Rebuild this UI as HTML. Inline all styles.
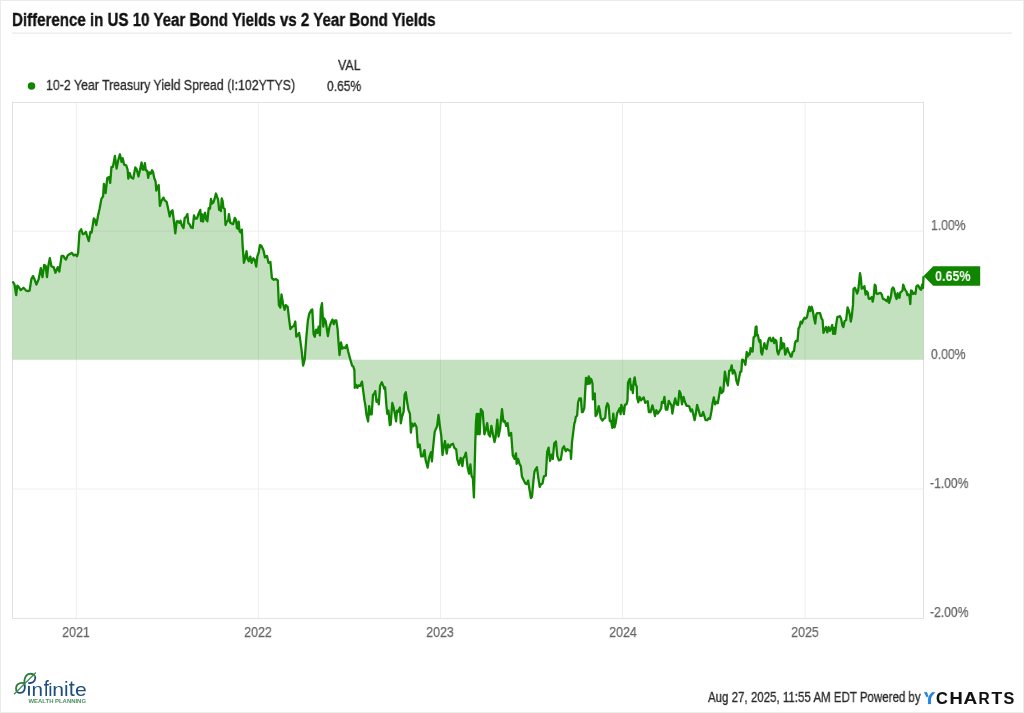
<!DOCTYPE html>
<html><head><meta charset="utf-8"><style>
html,body{margin:0;padding:0;background:#fff;}
body{width:1024px;height:713px;position:relative;overflow:hidden;font-family:"Liberation Sans",sans-serif;}
.frame{position:absolute;left:0;top:0;width:1024px;height:713px;box-sizing:border-box;border:1px solid #ebebeb;}
.t{position:absolute;white-space:nowrap;transform-origin:0 0;line-height:1;will-change:transform;}
.title{left:12px;top:10.6px;font-size:18px;font-weight:700;color:#111;-webkit-text-stroke:0.35px #111;transform:scaleX(0.838);}
.leg{left:46px;top:77.6px;font-size:14.8px;color:#2a2a2a;-webkit-text-stroke:0.3px #2a2a2a;transform:scaleX(0.834);}
.val{font-size:14px;color:#2a2a2a;-webkit-text-stroke:0.3px #2a2a2a;}
.ax{font-size:14px;color:#666;-webkit-text-stroke:0.25px #666;transform:scaleX(0.868);}
.axx{width:100px;text-align:center;transform-origin:50% 0 !important;font-size:15px;color:#666;-webkit-text-stroke:0.25px #666;transform:scaleX(0.83);}
.foot{left:707.5px;top:689.6px;font-size:14px;color:#2a2a2a;-webkit-text-stroke:0.3px #2a2a2a;transform:scaleX(0.822);}
</style></head><body>
<div class="frame"></div>
<div class="t title">Difference in US 10 Year Bond Yields vs 2 Year Bond Yields</div>
<div class="t leg">10-2 Year Treasury Yield Spread (I:102YTYS)</div>
<div class="t val" style="left:337.9px;top:57.6px;transform:scaleX(0.885);">VAL</div>
<div class="t val" style="left:326.6px;top:78.6px;transform:scaleX(0.86);">0.65%</div>
<svg style="position:absolute;left:0;top:0" width="1024" height="713" viewBox="0 0 1024 713">
<g fill="none" stroke="#efefef" stroke-width="1">
<path d="M76.3,102.5V618M258.4,102.5V618M440.5,102.5V618M622.6,102.5V618M805.1,102.5V618"/>
<path d="M12.5,231.1H923.5M12.5,489H923.5"/>
</g>
<line x1="12" y1="33.1" x2="1012" y2="33.1" stroke="#e4e4e4" stroke-width="1"/>
<circle cx="31.5" cy="86" r="3.75" fill="#108500"/>
<rect x="12.5" y="102.5" width="911" height="516" fill="none" stroke="#e2e2e2" stroke-width="1"/>
<path d="M12.5,359.75 L12.5,283 L13.1,282.2 L14.5,284.5 L16.2,295.1 L17.3,285.6 L19,287.3 L20.7,290.1 L23.5,287.8 L26.3,290.7 L27.9,291.2 L29.6,290.7 L31.3,279.4 L33,276.1 L34.4,278.9 L36.4,284.5 L38.6,279.4 L40.8,268.2 L42.5,277.2 L44.2,264.9 L45.7,266 L47,277.2 L48.1,267.1 L49.8,258.1 L51.5,266.5 L53.7,267.1 L55.4,272.7 L57.7,267.1 L59.3,271.6 L61.6,255.9 L63.3,255.9 L65,258.7 L66,259.6 L67.7,255.4 L70.2,253.7 L71.9,252.9 L73.6,255.4 L75.3,254.6 L77,256.2 L78.1,252.9 L79.5,231.8 L81.2,229.3 L82.9,234.3 L84.5,233.5 L85.9,231.8 L87.1,236 L88.8,241.1 L90.4,231.8 L91.6,232.6 L93.8,218.3 L95,220 L96.3,225.1 L98,215.8 L99.7,208.2 L101.4,198.9 L103.1,196.4 L103.9,183.8 L105.6,193 L107.3,177.9 L109,177 L110.2,182.9 L111.5,166.9 L112.9,166.9 L114.9,156 L116.6,168.6 L118.2,160.2 L119.9,154.3 L121.6,161.9 L122.7,158.3 L124.1,164.6 L126.2,165.3 L127.6,169.5 L128.3,178.6 L129.7,173 L131.1,177.2 L133.2,178.6 L135.3,167.4 L136.7,169.5 L138.5,176.5 L139.9,170.2 L141.6,162.5 L142.7,169.5 L143.7,169.5 L144.9,163.2 L145.8,170.2 L147.2,170.9 L148.2,177.9 L149.3,172.3 L150.7,173.7 L152.1,170.2 L153.1,172.3 L154.2,177.9 L155.6,181.5 L156.3,190.6 L157.7,187.1 L158.7,185 L159.9,206 L161.3,201.1 L163.4,197.6 L164.8,200.4 L166.6,201.8 L168,208.1 L169.7,216.5 L171.1,211.6 L172.5,210.2 L174.2,223.5 L175.3,233.3 L176.7,221.4 L178,221.2 L179.3,222.9 L180.5,220.8 L181.8,225.4 L183.5,228 L184.7,217.9 L186,217 L187.4,214.1 L188.3,222.9 L189.8,224.6 L191,227.5 L192.7,228 L194,215.3 L195.2,218.7 L196.9,218.7 L198.6,213.7 L200.3,209.9 L201.1,221.2 L202,214.5 L203.1,221.6 L204.1,215.3 L205.1,212.8 L206.2,219.5 L207.4,221.2 L208.7,208.2 L210,208.6 L211,198.9 L212.1,203.6 L213.3,202.7 L214.6,198.9 L215.9,193.5 L217.1,196.8 L218.2,200.2 L219.1,209.9 L220.1,209.9 L220.9,211.1 L221.7,198.5 L222.6,201 L223.4,207.8 L224.7,209 L225.5,225 L226.8,221.6 L228.1,220.8 L228.9,214.1 L230.2,222.5 L231.8,223.7 L233.1,224.2 L234.8,217.9 L236.1,220.4 L236.9,228 L237.7,228.8 L238.7,221.6 L239.6,231.3 L240.7,232.6 L241.9,229.6 L242.6,245.1 L243.9,262.8 L245.4,257.4 L246.5,251.2 L247.6,258.9 L248.8,261.2 L250.3,256.6 L251.6,262.8 L253.4,258.2 L254.7,259.7 L256.2,266.6 L257.3,256.6 L258.8,252 L259.9,245.1 L261.4,245.8 L263.5,250.5 L265,257.4 L267,255.9 L268.5,262.8 L270.4,262 L271.9,278.2 L273.8,279.8 L275.8,279 L277.8,280.5 L278.9,305.2 L280.4,307.5 L281.5,294.4 L283,303.7 L284.6,309.8 L285.8,305.2 L287.7,306.8 L288.9,317.5 L290.4,329.1 L292.3,326.8 L293.8,326 L295.3,321.5 L296.3,336.7 L297.5,335.4 L299.1,332.9 L300.3,340.5 L301.8,351.8 L303.1,365.7 L304.7,359.4 L306.4,336.7 L307.9,320.3 L309.2,313.9 L311.1,310.2 L312.3,309.5 L313.6,334.2 L314.8,336.7 L316.1,329.7 L317.4,332.9 L318.6,326.6 L319.9,335.4 L320.8,308.9 L322,303.2 L323.3,326.6 L324.3,318.4 L325.8,321.5 L327.9,336.1 L329.4,327.2 L330.9,322.8 L332.5,319.6 L333.8,324.1 L335.1,320.3 L336.3,320.3 L337.6,329.1 L338.2,337.9 L339.5,355 L341,342.4 L342.3,348.7 L343.9,347.4 L345.2,348.1 L346.8,344.9 L348.1,351.2 L349.6,356.9 L350.8,361.3 L352.1,365.7 L353.2,366.4 L354.4,370.2 L354.8,387.9 L356.1,384.7 L357.3,387.9 L358.6,385.4 L360.1,386 L362,381.6 L363.3,391.7 L364.5,400.5 L365.4,405.6 L366.4,414.4 L368.1,421.4 L369.2,406.2 L370.2,414.4 L371.7,414.4 L373,394.8 L374,394.2 L375.3,391.1 L376.5,401.8 L377.8,399.9 L378.8,404.3 L380.1,386 L381.8,382.2 L383.1,385.4 L384.4,389.2 L385.1,387.3 L386.4,405.6 L387.3,413.8 L388.5,410.6 L389.8,425.2 L390.7,424.5 L392.3,403 L393.6,407.5 L394.8,413.8 L396.1,421.4 L397,410.6 L398,411.9 L399.3,408.7 L399.9,407.5 L400.8,423.3 L402,416.9 L403.7,411.3 L404.6,394.8 L405.8,392.3 L407.4,403.8 L408.5,410.1 L409.9,413.6 L410.9,432.6 L411.9,423.5 L413.3,426.3 L414.7,423.5 L416.5,427 L417.9,447.3 L419.7,444.5 L421.1,456.4 L422.8,456.4 L424.5,450.1 L425.6,459.9 L427.7,467.6 L429.1,457.8 L431,452.2 L431.9,461.3 L432.9,449.4 L434.7,431.9 L436.1,428.4 L437.1,426.3 L438.5,415 L439.9,426.3 L441.3,436.1 L442.5,455 L443.9,445.9 L445,441 L446.7,453.6 L448.1,444.5 L449.7,447.3 L451.1,444.5 L453,443.8 L454.4,448 L456.2,449.4 L457.2,459.2 L459,464.8 L460.7,457.8 L462.4,466.2 L463.4,458.2 L464.8,456.1 L465.9,452.6 L467.6,467.3 L469,473.6 L470.4,464.5 L471.5,475.7 L472.9,478.5 L473.9,497.4 L475.3,442.1 L476,421.7 L476.7,414 L477.7,434.3 L478.5,414 L479.7,434.3 L480.9,409.1 L482.7,411.9 L484.4,434.3 L485.8,430.1 L487.2,423.1 L488.6,434.3 L490,436.5 L491.4,425.9 L492.8,433.6 L494.5,442.1 L495.6,437.2 L497.3,419.6 L498.5,436.5 L500.1,428.7 L502,409.1 L503.4,421.7 L504.8,421 L506.2,425.9 L507.6,423.1 L509,435.7 L511.1,432.9 L512.8,455.4 L514.6,458.9 L516,453.3 L516.7,463.8 L518.1,458.9 L519.7,464.5 L520.8,465.9 L521.9,476.4 L523.6,479.9 L525.3,483.4 L526.7,484.1 L528.1,480.6 L529.5,489.7 L530.9,498.1 L532,496.7 L533.4,481.3 L534.5,471.5 L535.5,469.4 L536.9,467.3 L538.3,477.8 L539.7,486.9 L541.1,484.1 L542.5,483.4 L543.9,476.4 L545.8,475.7 L547.2,451.9 L548.6,447.7 L550,461 L551.6,454.7 L552.8,458.9 L554.2,443.5 L555.9,441.4 L557.3,456.1 L558.9,460.3 L560.8,459.6 L562.6,448.4 L564,446.3 L565.7,451.2 L567.3,449.1 L569.2,450.5 L570.6,451.2 L571,458.9 L572,442.1 L573.4,430.8 L574.4,423.1 L575,422 L575.8,417 L577.1,415.6 L578.1,402.3 L579.4,398.4 L580.9,398.4 L581.9,412.1 L582.8,412.1 L584.3,408.2 L585.3,389.6 L586,377.8 L587,378.7 L587.7,384.1 L588.7,376.3 L589.7,383.7 L590.7,378.7 L591.5,379.7 L592.5,383.7 L592.9,399.4 L593.6,394.5 L594.8,393.5 L595.6,416.1 L597.1,414.1 L598.7,406.2 L599.7,410.2 L600.7,418 L602.5,420.5 L604,418.5 L605.2,418 L606.2,407.2 L607.4,403.3 L608.6,405.8 L609.8,421 L611.1,421 L612.3,427.8 L613.3,413.6 L614.5,427.4 L615.7,422.9 L617.2,413.1 L618.7,410.2 L619.7,408.2 L620.6,414.1 L621.3,404.8 L622.6,408.2 L623.9,414.1 L624.9,404.8 L626.5,404.3 L627.5,400.4 L628,382.7 L629.5,379.2 L630,378.7 L630.8,389.6 L631.8,385.6 L632.9,393 L633.7,381.7 L634.7,377.3 L635.7,384.6 L636.7,386.6 L637.1,397.4 L638.3,402.3 L639.6,396.9 L640.8,400.4 L642.3,398.9 L643.7,397.4 L645.2,402.8 L646.5,401.8 L647.7,401.3 L648.9,412.1 L650.6,412.1 L652.4,405.3 L653.8,410.7 L655,416.1 L656.3,410.2 L657.7,413.6 L659.5,411.2 L661.2,408.2 L661.9,401.8 L663.2,402.8 L664.4,396.9 L665.8,409.7 L667.3,409.7 L668.8,400.8 L670.3,403.8 L671.4,405.3 L672.4,413.6 L673.7,405.3 L675.2,398.4 L676.6,404.3 L678.1,404.8 L679.4,391 L680.6,393.5 L682,404.3 L683.5,396.9 L685,402.3 L686.5,405.8 L687.3,405.7 L689.2,406.3 L690.8,411.4 L692.1,409.5 L693.3,414.5 L694.6,420.2 L695.9,413.3 L697.1,405 L698.6,410.1 L700.1,415.8 L701.8,415.8 L703.1,412 L704.3,415.8 L705.6,420.2 L707.2,420.2 L708.7,418.3 L710,418.9 L711.3,412 L712.5,403.8 L713.8,397.5 L715.1,404.4 L716.3,401.9 L717.8,403.2 L719.1,395.6 L720.4,387.4 L721.6,393.1 L723.3,391.2 L724.9,371.6 L726.4,380.4 L727.9,385.5 L729.2,370.9 L730.5,370.3 L731.7,365.3 L732.7,373.5 L734,370.3 L735.3,373.5 L736.5,381.1 L737.8,384.8 L739.1,377.9 L740.3,371.6 L741.3,371.6 L742.2,359.6 L743,359.9 L744,360.9 L745.4,364.8 L746.7,352 L747.7,356.5 L748.7,353.5 L749.7,354.5 L750.6,348.1 L751.6,351.1 L752.6,351.6 L753.6,337.3 L754.8,336.3 L755.7,327 L756.5,326.5 L756.9,335.4 L757.9,334.9 L758.9,340.3 L759.7,342.2 L760.5,340.3 L761.1,352 L762.1,354.5 L763.1,349.1 L764.4,343.2 L765.6,347.6 L766.6,349.1 L767.7,342.7 L769,338.3 L770,337.8 L771.3,341.2 L772.2,340.8 L773.2,337.8 L774.2,343.2 L775.4,339.8 L776.4,341.2 L777.2,351.1 L778.3,354.5 L779.3,351.1 L780.3,348.6 L781,337.8 L781.8,348.6 L782.8,343.2 L784,343.7 L785.2,354.5 L786.2,352 L787.4,348.1 L788.4,351.6 L789.6,353.5 L790.6,356.5 L791.6,356.5 L792.6,352 L794,351.1 L795,343.2 L796,340.8 L797.5,341.2 L798.5,328.5 L799.5,327 L800.7,321.6 L801.9,323.5 L803.1,320.1 L804.7,317.6 L805.9,318.6 L807,317.1 L808.3,310.3 L809.3,306.8 L810.3,311.2 L811.7,306.8 L812.9,311.2 L814.2,319.1 L815.2,323.5 L816.2,314.7 L817.1,313.2 L818.6,313.2 L820.1,313.2 L821.4,318.1 L822.6,320.1 L823.5,332.9 L824.7,329.9 L826,327 L827.3,332.4 L828.6,327 L829.9,330.9 L831.2,327.9 L832.2,325 L833.2,333.8 L834.1,327.9 L835.1,333.8 L836.1,325 L837.3,317.1 L838.8,316.6 L840,316.2 L841.2,319.1 L842.4,325.5 L843.4,327 L844.6,321.1 L846.1,320.1 L847.6,307.3 L848.9,310.8 L849.9,315.2 L850.8,321.6 L851.8,316.2 L853,304.4 L853.5,289.1 L854.8,287.8 L855.9,290.1 L857.1,293.6 L858.2,290.5 L859,283.2 L860,273.1 L860.9,278.5 L861.7,288.6 L862.9,288.2 L864.4,286.2 L865.6,294.7 L866.7,291.3 L867.7,292.4 L868.7,298.6 L869.8,299 L871,297.8 L871.8,297 L872.7,301.7 L873.7,296.3 L874.8,284.7 L875.6,285.5 L876.4,293.6 L877.5,294 L879.1,293.2 L880.6,292.8 L881.8,294.7 L882.9,298.6 L884.5,299.4 L886,300.5 L887.2,301.3 L888.1,296.7 L889.1,302.8 L889.9,300.1 L891,296.3 L891.8,289.3 L893,287.4 L894,288.9 L894.9,293.2 L895.7,296.7 L896.6,299 L897.6,293.2 L898.6,297 L899.5,297.8 L900.3,292.4 L901.5,291.6 L902.5,290.5 L903.2,284.7 L904.2,287.4 L905.3,290.1 L906.5,291.6 L907.4,295.1 L908.4,294.3 L909.4,295.9 L910.3,304 L911,290.5 L911.9,290.9 L913,294 L914.2,292.8 L915.4,294 L916.4,286.6 L917.3,285.5 L918.2,285.5 L919.2,287.4 L920.2,289.3 L921.1,289.7 L922.1,284.7 L923,288 L923.5,276.2 L923.5,359.75 Z" fill="#108500" fill-opacity="0.25"/>
<path d="M12.5,283 L13.1,282.2 L14.5,284.5 L16.2,295.1 L17.3,285.6 L19,287.3 L20.7,290.1 L23.5,287.8 L26.3,290.7 L27.9,291.2 L29.6,290.7 L31.3,279.4 L33,276.1 L34.4,278.9 L36.4,284.5 L38.6,279.4 L40.8,268.2 L42.5,277.2 L44.2,264.9 L45.7,266 L47,277.2 L48.1,267.1 L49.8,258.1 L51.5,266.5 L53.7,267.1 L55.4,272.7 L57.7,267.1 L59.3,271.6 L61.6,255.9 L63.3,255.9 L65,258.7 L66,259.6 L67.7,255.4 L70.2,253.7 L71.9,252.9 L73.6,255.4 L75.3,254.6 L77,256.2 L78.1,252.9 L79.5,231.8 L81.2,229.3 L82.9,234.3 L84.5,233.5 L85.9,231.8 L87.1,236 L88.8,241.1 L90.4,231.8 L91.6,232.6 L93.8,218.3 L95,220 L96.3,225.1 L98,215.8 L99.7,208.2 L101.4,198.9 L103.1,196.4 L103.9,183.8 L105.6,193 L107.3,177.9 L109,177 L110.2,182.9 L111.5,166.9 L112.9,166.9 L114.9,156 L116.6,168.6 L118.2,160.2 L119.9,154.3 L121.6,161.9 L122.7,158.3 L124.1,164.6 L126.2,165.3 L127.6,169.5 L128.3,178.6 L129.7,173 L131.1,177.2 L133.2,178.6 L135.3,167.4 L136.7,169.5 L138.5,176.5 L139.9,170.2 L141.6,162.5 L142.7,169.5 L143.7,169.5 L144.9,163.2 L145.8,170.2 L147.2,170.9 L148.2,177.9 L149.3,172.3 L150.7,173.7 L152.1,170.2 L153.1,172.3 L154.2,177.9 L155.6,181.5 L156.3,190.6 L157.7,187.1 L158.7,185 L159.9,206 L161.3,201.1 L163.4,197.6 L164.8,200.4 L166.6,201.8 L168,208.1 L169.7,216.5 L171.1,211.6 L172.5,210.2 L174.2,223.5 L175.3,233.3 L176.7,221.4 L178,221.2 L179.3,222.9 L180.5,220.8 L181.8,225.4 L183.5,228 L184.7,217.9 L186,217 L187.4,214.1 L188.3,222.9 L189.8,224.6 L191,227.5 L192.7,228 L194,215.3 L195.2,218.7 L196.9,218.7 L198.6,213.7 L200.3,209.9 L201.1,221.2 L202,214.5 L203.1,221.6 L204.1,215.3 L205.1,212.8 L206.2,219.5 L207.4,221.2 L208.7,208.2 L210,208.6 L211,198.9 L212.1,203.6 L213.3,202.7 L214.6,198.9 L215.9,193.5 L217.1,196.8 L218.2,200.2 L219.1,209.9 L220.1,209.9 L220.9,211.1 L221.7,198.5 L222.6,201 L223.4,207.8 L224.7,209 L225.5,225 L226.8,221.6 L228.1,220.8 L228.9,214.1 L230.2,222.5 L231.8,223.7 L233.1,224.2 L234.8,217.9 L236.1,220.4 L236.9,228 L237.7,228.8 L238.7,221.6 L239.6,231.3 L240.7,232.6 L241.9,229.6 L242.6,245.1 L243.9,262.8 L245.4,257.4 L246.5,251.2 L247.6,258.9 L248.8,261.2 L250.3,256.6 L251.6,262.8 L253.4,258.2 L254.7,259.7 L256.2,266.6 L257.3,256.6 L258.8,252 L259.9,245.1 L261.4,245.8 L263.5,250.5 L265,257.4 L267,255.9 L268.5,262.8 L270.4,262 L271.9,278.2 L273.8,279.8 L275.8,279 L277.8,280.5 L278.9,305.2 L280.4,307.5 L281.5,294.4 L283,303.7 L284.6,309.8 L285.8,305.2 L287.7,306.8 L288.9,317.5 L290.4,329.1 L292.3,326.8 L293.8,326 L295.3,321.5 L296.3,336.7 L297.5,335.4 L299.1,332.9 L300.3,340.5 L301.8,351.8 L303.1,365.7 L304.7,359.4 L306.4,336.7 L307.9,320.3 L309.2,313.9 L311.1,310.2 L312.3,309.5 L313.6,334.2 L314.8,336.7 L316.1,329.7 L317.4,332.9 L318.6,326.6 L319.9,335.4 L320.8,308.9 L322,303.2 L323.3,326.6 L324.3,318.4 L325.8,321.5 L327.9,336.1 L329.4,327.2 L330.9,322.8 L332.5,319.6 L333.8,324.1 L335.1,320.3 L336.3,320.3 L337.6,329.1 L338.2,337.9 L339.5,355 L341,342.4 L342.3,348.7 L343.9,347.4 L345.2,348.1 L346.8,344.9 L348.1,351.2 L349.6,356.9 L350.8,361.3 L352.1,365.7 L353.2,366.4 L354.4,370.2 L354.8,387.9 L356.1,384.7 L357.3,387.9 L358.6,385.4 L360.1,386 L362,381.6 L363.3,391.7 L364.5,400.5 L365.4,405.6 L366.4,414.4 L368.1,421.4 L369.2,406.2 L370.2,414.4 L371.7,414.4 L373,394.8 L374,394.2 L375.3,391.1 L376.5,401.8 L377.8,399.9 L378.8,404.3 L380.1,386 L381.8,382.2 L383.1,385.4 L384.4,389.2 L385.1,387.3 L386.4,405.6 L387.3,413.8 L388.5,410.6 L389.8,425.2 L390.7,424.5 L392.3,403 L393.6,407.5 L394.8,413.8 L396.1,421.4 L397,410.6 L398,411.9 L399.3,408.7 L399.9,407.5 L400.8,423.3 L402,416.9 L403.7,411.3 L404.6,394.8 L405.8,392.3 L407.4,403.8 L408.5,410.1 L409.9,413.6 L410.9,432.6 L411.9,423.5 L413.3,426.3 L414.7,423.5 L416.5,427 L417.9,447.3 L419.7,444.5 L421.1,456.4 L422.8,456.4 L424.5,450.1 L425.6,459.9 L427.7,467.6 L429.1,457.8 L431,452.2 L431.9,461.3 L432.9,449.4 L434.7,431.9 L436.1,428.4 L437.1,426.3 L438.5,415 L439.9,426.3 L441.3,436.1 L442.5,455 L443.9,445.9 L445,441 L446.7,453.6 L448.1,444.5 L449.7,447.3 L451.1,444.5 L453,443.8 L454.4,448 L456.2,449.4 L457.2,459.2 L459,464.8 L460.7,457.8 L462.4,466.2 L463.4,458.2 L464.8,456.1 L465.9,452.6 L467.6,467.3 L469,473.6 L470.4,464.5 L471.5,475.7 L472.9,478.5 L473.9,497.4 L475.3,442.1 L476,421.7 L476.7,414 L477.7,434.3 L478.5,414 L479.7,434.3 L480.9,409.1 L482.7,411.9 L484.4,434.3 L485.8,430.1 L487.2,423.1 L488.6,434.3 L490,436.5 L491.4,425.9 L492.8,433.6 L494.5,442.1 L495.6,437.2 L497.3,419.6 L498.5,436.5 L500.1,428.7 L502,409.1 L503.4,421.7 L504.8,421 L506.2,425.9 L507.6,423.1 L509,435.7 L511.1,432.9 L512.8,455.4 L514.6,458.9 L516,453.3 L516.7,463.8 L518.1,458.9 L519.7,464.5 L520.8,465.9 L521.9,476.4 L523.6,479.9 L525.3,483.4 L526.7,484.1 L528.1,480.6 L529.5,489.7 L530.9,498.1 L532,496.7 L533.4,481.3 L534.5,471.5 L535.5,469.4 L536.9,467.3 L538.3,477.8 L539.7,486.9 L541.1,484.1 L542.5,483.4 L543.9,476.4 L545.8,475.7 L547.2,451.9 L548.6,447.7 L550,461 L551.6,454.7 L552.8,458.9 L554.2,443.5 L555.9,441.4 L557.3,456.1 L558.9,460.3 L560.8,459.6 L562.6,448.4 L564,446.3 L565.7,451.2 L567.3,449.1 L569.2,450.5 L570.6,451.2 L571,458.9 L572,442.1 L573.4,430.8 L574.4,423.1 L575,422 L575.8,417 L577.1,415.6 L578.1,402.3 L579.4,398.4 L580.9,398.4 L581.9,412.1 L582.8,412.1 L584.3,408.2 L585.3,389.6 L586,377.8 L587,378.7 L587.7,384.1 L588.7,376.3 L589.7,383.7 L590.7,378.7 L591.5,379.7 L592.5,383.7 L592.9,399.4 L593.6,394.5 L594.8,393.5 L595.6,416.1 L597.1,414.1 L598.7,406.2 L599.7,410.2 L600.7,418 L602.5,420.5 L604,418.5 L605.2,418 L606.2,407.2 L607.4,403.3 L608.6,405.8 L609.8,421 L611.1,421 L612.3,427.8 L613.3,413.6 L614.5,427.4 L615.7,422.9 L617.2,413.1 L618.7,410.2 L619.7,408.2 L620.6,414.1 L621.3,404.8 L622.6,408.2 L623.9,414.1 L624.9,404.8 L626.5,404.3 L627.5,400.4 L628,382.7 L629.5,379.2 L630,378.7 L630.8,389.6 L631.8,385.6 L632.9,393 L633.7,381.7 L634.7,377.3 L635.7,384.6 L636.7,386.6 L637.1,397.4 L638.3,402.3 L639.6,396.9 L640.8,400.4 L642.3,398.9 L643.7,397.4 L645.2,402.8 L646.5,401.8 L647.7,401.3 L648.9,412.1 L650.6,412.1 L652.4,405.3 L653.8,410.7 L655,416.1 L656.3,410.2 L657.7,413.6 L659.5,411.2 L661.2,408.2 L661.9,401.8 L663.2,402.8 L664.4,396.9 L665.8,409.7 L667.3,409.7 L668.8,400.8 L670.3,403.8 L671.4,405.3 L672.4,413.6 L673.7,405.3 L675.2,398.4 L676.6,404.3 L678.1,404.8 L679.4,391 L680.6,393.5 L682,404.3 L683.5,396.9 L685,402.3 L686.5,405.8 L687.3,405.7 L689.2,406.3 L690.8,411.4 L692.1,409.5 L693.3,414.5 L694.6,420.2 L695.9,413.3 L697.1,405 L698.6,410.1 L700.1,415.8 L701.8,415.8 L703.1,412 L704.3,415.8 L705.6,420.2 L707.2,420.2 L708.7,418.3 L710,418.9 L711.3,412 L712.5,403.8 L713.8,397.5 L715.1,404.4 L716.3,401.9 L717.8,403.2 L719.1,395.6 L720.4,387.4 L721.6,393.1 L723.3,391.2 L724.9,371.6 L726.4,380.4 L727.9,385.5 L729.2,370.9 L730.5,370.3 L731.7,365.3 L732.7,373.5 L734,370.3 L735.3,373.5 L736.5,381.1 L737.8,384.8 L739.1,377.9 L740.3,371.6 L741.3,371.6 L742.2,359.6 L743,359.9 L744,360.9 L745.4,364.8 L746.7,352 L747.7,356.5 L748.7,353.5 L749.7,354.5 L750.6,348.1 L751.6,351.1 L752.6,351.6 L753.6,337.3 L754.8,336.3 L755.7,327 L756.5,326.5 L756.9,335.4 L757.9,334.9 L758.9,340.3 L759.7,342.2 L760.5,340.3 L761.1,352 L762.1,354.5 L763.1,349.1 L764.4,343.2 L765.6,347.6 L766.6,349.1 L767.7,342.7 L769,338.3 L770,337.8 L771.3,341.2 L772.2,340.8 L773.2,337.8 L774.2,343.2 L775.4,339.8 L776.4,341.2 L777.2,351.1 L778.3,354.5 L779.3,351.1 L780.3,348.6 L781,337.8 L781.8,348.6 L782.8,343.2 L784,343.7 L785.2,354.5 L786.2,352 L787.4,348.1 L788.4,351.6 L789.6,353.5 L790.6,356.5 L791.6,356.5 L792.6,352 L794,351.1 L795,343.2 L796,340.8 L797.5,341.2 L798.5,328.5 L799.5,327 L800.7,321.6 L801.9,323.5 L803.1,320.1 L804.7,317.6 L805.9,318.6 L807,317.1 L808.3,310.3 L809.3,306.8 L810.3,311.2 L811.7,306.8 L812.9,311.2 L814.2,319.1 L815.2,323.5 L816.2,314.7 L817.1,313.2 L818.6,313.2 L820.1,313.2 L821.4,318.1 L822.6,320.1 L823.5,332.9 L824.7,329.9 L826,327 L827.3,332.4 L828.6,327 L829.9,330.9 L831.2,327.9 L832.2,325 L833.2,333.8 L834.1,327.9 L835.1,333.8 L836.1,325 L837.3,317.1 L838.8,316.6 L840,316.2 L841.2,319.1 L842.4,325.5 L843.4,327 L844.6,321.1 L846.1,320.1 L847.6,307.3 L848.9,310.8 L849.9,315.2 L850.8,321.6 L851.8,316.2 L853,304.4 L853.5,289.1 L854.8,287.8 L855.9,290.1 L857.1,293.6 L858.2,290.5 L859,283.2 L860,273.1 L860.9,278.5 L861.7,288.6 L862.9,288.2 L864.4,286.2 L865.6,294.7 L866.7,291.3 L867.7,292.4 L868.7,298.6 L869.8,299 L871,297.8 L871.8,297 L872.7,301.7 L873.7,296.3 L874.8,284.7 L875.6,285.5 L876.4,293.6 L877.5,294 L879.1,293.2 L880.6,292.8 L881.8,294.7 L882.9,298.6 L884.5,299.4 L886,300.5 L887.2,301.3 L888.1,296.7 L889.1,302.8 L889.9,300.1 L891,296.3 L891.8,289.3 L893,287.4 L894,288.9 L894.9,293.2 L895.7,296.7 L896.6,299 L897.6,293.2 L898.6,297 L899.5,297.8 L900.3,292.4 L901.5,291.6 L902.5,290.5 L903.2,284.7 L904.2,287.4 L905.3,290.1 L906.5,291.6 L907.4,295.1 L908.4,294.3 L909.4,295.9 L910.3,304 L911,290.5 L911.9,290.9 L913,294 L914.2,292.8 L915.4,294 L916.4,286.6 L917.3,285.5 L918.2,285.5 L919.2,287.4 L920.2,289.3 L921.1,289.7 L922.1,284.7 L923,288 L923.5,276.2" fill="none" stroke="#108500" stroke-width="2.3" stroke-linejoin="round"/>
<path d="M923.5,276 L933.2,266.2 H980.2 V285.8 H933.2 Z" fill="#108500"/>
<!-- YCHARTS logo -->
<g font-family="Liberation Sans" font-weight="700" font-size="16" stroke="#111" stroke-width="0.1">
<path d="M924.0,692.2 L927.0,692.2 L928.3,696.3 L926.7,697.3 Z M932.1,692.2 L935.3,692.2 C933,694.5 930.9,696.5 930.9,699.5 L930.9,704.1 L928.1,704.1 L928.1,699.2 C928.1,696.2 930,694.2 932.1,692.2 Z" fill="#1b87e6"/>
<text transform="translate(935.92,703.9) scale(1.023,1.035)" fill="#111">C</text><text transform="translate(949.47,703.9) scale(1.148,1.035)" fill="#111">H</text><text transform="translate(963.43,703.9) scale(1.184,1.035)" fill="#111">A</text><text transform="translate(978.47,703.9) scale(0.965,1.035)" fill="#111">R</text><text transform="translate(991.5,703.9) scale(1.093,1.035)" fill="#111">T</text><text transform="translate(1003.53,703.9) scale(1.011,1.035)" fill="#111">S</text>
</g>
<!-- infinite logo -->
<g fill="none" stroke-width="1.8">
<path d="M24.4,683.2 C24.0,679 25.5,674.2 29.8,673.8 C32.3,673.6 34.2,674.8 35.0,676.4" stroke="#2c7a3c"/>
<path d="M35.0,676.4 C36.0,679 34.5,682.6 30.5,683.0 C29.6,683.1 28.8,683.0 28.2,682.9" stroke="#1d4e7e"/>
<path d="M24.4,683.2 C22.5,682.6 19.5,682.8 17.6,684.5 C15.6,686.5 15.5,690 17.2,691.8" stroke="#2c7a3c"/>
<path d="M17.2,691.8 C18.8,693.4 22.5,693.4 24.0,690.8 C25.0,689 25.0,686 24.4,683.2" stroke="#1d4e7e"/>
<path d="M14,694.2 L35.9,672.5" stroke="#3a8a4a" stroke-width="1.2"/>
</g>
<rect x="28" y="685.9" width="1.9" height="9.8" fill="#1d4e7e"/>
<g font-family="Liberation Sans" font-size="19" fill="#1d4e7e"><text transform="translate(31.53,695.7) scale(1.09,1.008)">n</text><text transform="translate(43.64,695.7) scale(0.972,1.164)">f</text><text transform="translate(48.31,695.7) scale(1.018,1.01)">i</text><text transform="translate(52.3,695.7) scale(1.115,1.008)">n</text><text transform="translate(64.03,695.7) scale(1.078,1.031)">i</text><text transform="translate(68.77,695.7) scale(1.134,1.124)">t</text><text transform="translate(74.9,695.7) scale(1.111,1.008)">e</text></g>
<text x="28.5" y="702.6" font-family="Liberation Sans" font-weight="700" font-size="5" fill="#4a9060" textLength="57.5" lengthAdjust="spacingAndGlyphs">WEALTH PLANNING</text>
</svg>
<div class="t" style="left:934.5px;top:268.6px;font-size:14px;font-weight:700;color:#fff;transform:scaleX(0.895);">0.65%</div>
<div class="t ax" style="left:931px;top:218.2px;">1.00%</div>
<div class="t ax" style="left:931px;top:347.2px;">0.00%</div>
<div class="t ax" style="left:930px;top:476.2px;">-1.00%</div>
<div class="t ax" style="left:930px;top:605.2px;">-2.00%</div>
<div class="t axx" style="left:25.6px;top:624.2px;">2021</div>
<div class="t axx" style="left:208.3px;top:624.2px;">2022</div>
<div class="t axx" style="left:390.4px;top:624.2px;">2023</div>
<div class="t axx" style="left:572.5px;top:624.2px;">2024</div>
<div class="t axx" style="left:755.0px;top:624.2px;">2025</div>
<div class="t foot">Aug 27, 2025, 11:55 AM EDT Powered by</div>
</body></html>
